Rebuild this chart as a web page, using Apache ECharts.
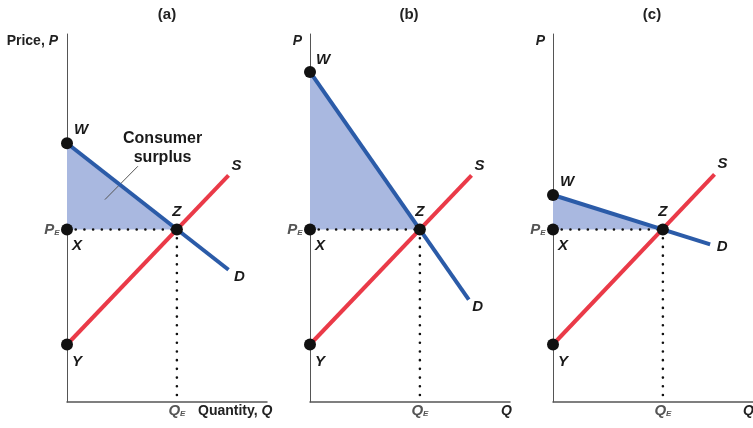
<!DOCTYPE html>
<html>
<head>
<meta charset="utf-8">
<script src="https://cdn.jsdelivr.net/npm/echarts@6/dist/echarts.min.js"></script>
<style>
  html, body { margin: 0; padding: 0; background: #fff; }
  #chart { width: 753px; height: 428px; }
</style>
</head>
<body>
<div id="chart"></div>
<script>
  // panel titles
  const panelNames = ['(a)', '(b)', '(c)'];
  // price at W (demand intercept) for each panel
  const priceW = [22.5, 28.7, 18.0];
  // equilibrium and supply intercept (same in all panels)
  const priceE = 15;
  const quantityE = 10;
  const priceY = 5;
  // end points of the supply and demand curves
  const supplyEnd = [[14.7, 19.7], [14.7, 19.7], [14.7, 19.8]];
  const demandEnd = [[14.7, 11.5], [14.45, 8.9], [14.3, 13.7]];
  // leader line for the "Consumer surplus" note (panel a)
  const pointerLine = [[3.45, 17.6], [6.45, 20.5]];
  const noteAt = [8.7, 22.1];

  const FONT = '"Liberation Sans Narrow", "Liberation Sans", Arial, sans-serif';
  const RED = '#ea3a48';
  const BLUE = '#2b5ba8';
  const FILL = '#a9b8e0';
  const gridLefts = [67, 310, 553];

  const chart = echarts.init(document.getElementById('chart'));

  const grids = [], xAxes = [], yAxes = [], series = [];

  function bold(size, italic) {
    return { fontFamily: FONT, fontWeight: 'bold', fontStyle: italic ? 'italic' : 'normal', fontSize: size, color: '#1a1a1a' };
  }

  // text-only point
  function tag(value, text, dx, dy, rich) {
    return {
      value: value,
      label: {
        show: true, position: 'inside', formatter: text, offset: [dx, dy],
        ...bold(15, true), rich: rich
      }
    };
  }

  const subRich = {
    p: { fontFamily: FONT, fontStyle: 'italic', fontSize: 15, color: '#555', lineHeight: 16 },
    s: { fontFamily: FONT, fontSize: 8, color: '#555', lineHeight: 16, padding: [6, 0, 0, 0] }
  };

  panelNames.forEach((name, i) => {
    grids.push({ left: gridLefts[i], top: 34, width: 200, height: 368 });
    xAxes.push({
      gridIndex: i, type: 'value', min: 0, max: 18.2,
      axisLine: { show: true, onZero: false, lineStyle: { color: '#555', width: 1.5 } },
      axisTick: { show: false }, axisLabel: { show: false }, splitLine: { show: false }
    });
    yAxes.push({
      gridIndex: i, type: 'value', min: 0, max: 32,
      axisLine: { show: true, onZero: false, lineStyle: { color: '#555', width: 1 } },
      axisTick: { show: false }, axisLabel: { show: false }, splitLine: { show: false }
    });

    const W = [0, priceW[i]], X = [0, priceE], Z = [quantityE, priceE], Y = [0, priceY];
    const ax = { xAxisIndex: i, yAxisIndex: i };

    // consumer surplus triangle
    series.push({
      type: 'custom', ...ax, z: 1, silent: true,
      data: [[W, Z, X]],
      renderItem: (params, api) => ({
        type: 'polygon',
        shape: { points: [api.coord(W), api.coord(Z), api.coord(X)] },
        style: { fill: FILL }
      })
    });

    const dotted = { color: '#111', width: 2.6, type: [0.01, 8.7], cap: 'round' };
    series.push({ type: 'line', ...ax, z: 2, symbol: 'none', silent: true, data: [X, Z], lineStyle: dotted });
    series.push({ type: 'line', ...ax, z: 2, symbol: 'none', silent: true, data: [Z, [quantityE, 0]], lineStyle: dotted });

    // supply and demand
    series.push({ type: 'line', ...ax, z: 3, symbol: 'none', data: [Y, supplyEnd[i]], lineStyle: { color: RED, width: 4 } });
    series.push({ type: 'line', ...ax, z: 4, symbol: 'none', data: [W, demandEnd[i]], lineStyle: { color: BLUE, width: 4 } });

    // points
    series.push({
      type: 'scatter', ...ax, z: 5, symbolSize: 12, itemStyle: { color: '#111', opacity: 1 },
      data: [W, X, Y, Z]
    });

    const wOff = i === 1 ? [13, -12] : [14, -13];
    const dOff = [[11, 7], [9, 7], [12, 2]][i];
    const tags = [
      tag(W, 'W', wOff[0], wOff[1]),
      tag(X, 'X', 10, 16),
      tag(Y, 'Y', 10, 17),
      tag(Z, 'Z', 0, -18),
      tag(supplyEnd[i], 'S', 8, -10),
      tag(demandEnd[i], 'D', dOff[0], dOff[1]),
      tag(X, '{p|P}{s|E}', -15, 0, subRich),
      tag([quantityE, 0], '{p|Q}{s|E}', 0, 9, subRich)
    ];
    series.push({
      type: 'scatter', ...ax, z: 6, symbolSize: 1, silent: true,
      itemStyle: { color: 'transparent', opacity: 1 }, data: tags
    });

    if (i === 0) {
      series.push({ type: 'line', ...ax, z: 3, symbol: 'none', silent: true, data: pointerLine, lineStyle: { color: '#555', width: 1 } });
      series.push({
        type: 'scatter', ...ax, z: 6, symbolSize: 1, silent: true, itemStyle: { color: 'transparent', opacity: 1 },
        data: [{
          value: noteAt,
          label: { show: true, position: 'inside', formatter: 'Consumer\nsurplus', lineHeight: 19, align: 'center', ...bold(16, false) }
        }]
      });
    }
  });

  const titleXs = [167, 409, 652];
  const graphic = titleXs.map((x, i) => ({
    type: 'text', x: x, y: 15,
    style: { text: panelNames[i], fontFamily: FONT, fontWeight: 'bold', fontSize: 15, fill: '#222', align: 'center', verticalAlign: 'middle' }
  }));

  // axis names
  const axisNames = [
    { x: 58, y: 41, align: 'right', text: '{a|Price, }{b|P}' },
    { x: 302, y: 41, align: 'right', text: '{b|P}' },
    { x: 545, y: 41, align: 'right', text: '{b|P}' },
    { x: 198, y: 411, align: 'left', text: '{a|Quantity, }{b|Q}' },
    { x: 501, y: 411, align: 'left', text: '{b|Q}' },
    { x: 743, y: 411, align: 'left', text: '{b|Q}' }
  ];
  axisNames.forEach(n => {
    graphic.push({
      type: 'text', x: n.x, y: n.y,
      style: {
        text: n.text, align: n.align, verticalAlign: 'middle',
        rich: {
          a: { fontFamily: FONT, fontWeight: 'bold', fontSize: 14, fill: '#222' },
          b: { fontFamily: FONT, fontWeight: 'bold', fontStyle: 'italic', fontSize: 14, fill: '#222' }
        }
      }
    });
  });

  chart.setOption({
    animation: false,
    grid: grids,
    xAxis: xAxes,
    yAxis: yAxes,
    series: series,
    graphic: graphic
  });
</script>
</body>
</html>
